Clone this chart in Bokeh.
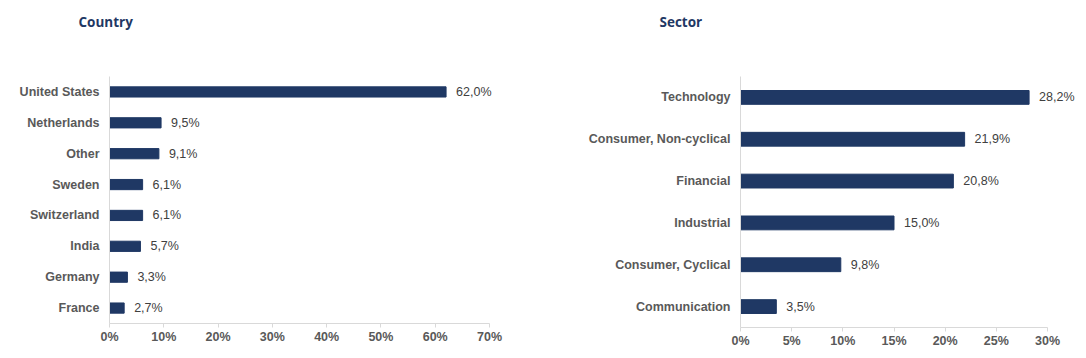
from bokeh.plotting import figure
from bokeh.layouts import row
from bokeh.models import ColumnDataSource, LabelSet, FixedTicker, Range1d, FactorRange
from bokeh.core.properties import value
from bokeh.embed import file_html
from bokeh.resources import INLINE

# ---- data ----
countries = ["United States", "Netherlands", "Other", "Sweden", "Switzerland", "India", "Germany", "France"]
country_values = [62.0, 9.5, 9.1, 6.1, 6.1, 5.7, 3.3, 2.7]
country_ticks = [0, 10, 20, 30, 40, 50, 60, 70]
country_tick_labels = ["0%", "10%", "20%", "30%", "40%", "50%", "60%", "70%"]

sectors = ["Technology", "Consumer, Non-cyclical", "Financial", "Industrial", "Consumer, Cyclical", "Communication"]
sector_values = [28.2, 21.9, 20.8, 15.0, 9.8, 3.5]
sector_ticks = [0, 5, 10, 15, 20, 25, 30]
sector_tick_labels = ["0%", "5%", "10%", "15%", "20%", "25%", "30%"]

BAR = "#1F3864"
AXIS = "#D9D9D9"
LABEL = "#595959"
VALUE = "#404040"
FONT = "Liberation Sans"


def make_chart(title, cats, vals, ticks, tick_labels, axis_max, axis_px,
               frame_w, frame_h, bl, bt, title_offset):
    src = ColumnDataSource(dict(
        cat=cats, val=vals,
        txt=[f"{v:.1f}".replace(".", ",") + "%" for v in vals],
    ))
    # axis ends at axis_px pixels; frame extends further so value labels are not clipped
    xmax = axis_max * frame_w / axis_px
    p = figure(frame_width=frame_w, frame_height=frame_h, output_backend="svg",
               toolbar_location=None,
               y_range=FactorRange(factors=list(reversed(cats)), range_padding=0),
               x_range=Range1d(0, xmax),
               min_border_left=bl, min_border_right=0, min_border_top=bt, min_border_bottom=10)
    p.hbar(y="cat", right="val", left=0, height=0.33, source=src, color=BAR)
    labels = LabelSet(x="val", y="cat", text="txt", source=src, x_offset=10,
                      text_baseline="middle", text_align="left",
                      text_font=value(FONT), text_font_size="12.5px", text_color=VALUE)
    p.add_layout(labels)

    # title sits well above the plot area: extra empty lines below it push it up
    p.title.text = title + "\n\n"
    p.title.align = "left"
    p.title.vertical_align = "top"
    p.title.standoff = 0
    p.title.offset = title_offset
    p.title.text_line_height = 1.22
    p.title.text_font = "Open Sans"
    p.title.text_font_style = "bold"
    p.title.text_font_size = "13.5px"
    p.title.text_color = BAR

    p.xgrid.grid_line_color = None
    p.ygrid.grid_line_color = None
    p.outline_line_color = None
    p.background_fill_color = "white"

    xa = p.xaxis[0]
    xa.ticker = FixedTicker(ticks=ticks)
    xa.bounds = (0, axis_max)
    xa.major_label_overrides = {t: l for t, l in zip(ticks, tick_labels)}
    xa.axis_line_color = AXIS
    xa.major_tick_line_color = AXIS
    xa.major_tick_in = 0
    xa.major_tick_out = 4
    xa.minor_tick_line_color = None
    xa.major_label_text_font = FONT
    xa.major_label_text_font_style = "bold"
    xa.major_label_text_font_size = "12.5px"
    xa.major_label_text_color = LABEL
    xa.major_label_standoff = 2

    ya = p.yaxis[0]
    ya.axis_line_color = AXIS
    ya.major_tick_line_color = None
    ya.major_tick_in = 0
    ya.major_tick_out = 0
    ya.minor_tick_line_color = None
    ya.major_label_text_font = FONT
    ya.major_label_text_font_style = "bold"
    ya.major_label_text_font_size = "12.5px"
    ya.major_label_text_color = LABEL
    ya.major_label_standoff = 10
    return p


p1 = make_chart("Country", countries, country_values, country_ticks, country_tick_labels,
                70, 380, 451, 247, 109, 76, -31)
p2 = make_chart("Sector", sectors, sector_values, sector_ticks, sector_tick_labels,
                30, 307, 338, 251, 180, 76, -81)

layout = row(p1, p2)
open("out.html", "w").write(file_html(layout, INLINE))
